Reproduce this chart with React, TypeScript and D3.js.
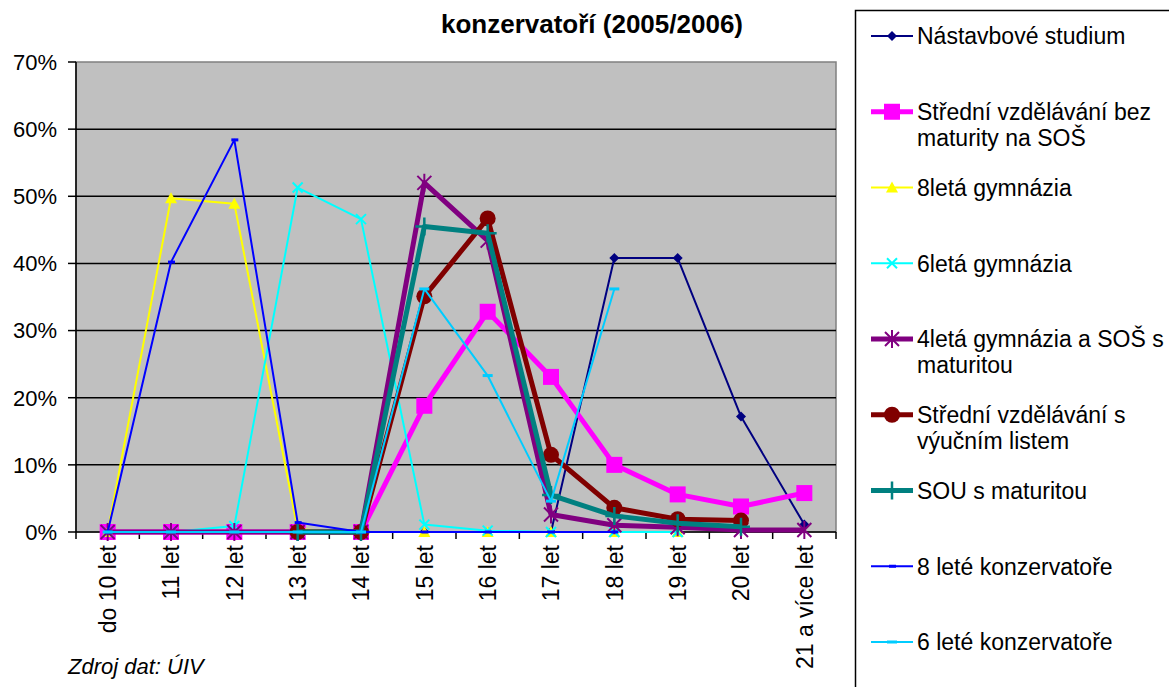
import * as d3 from "d3";
import React from "react";

// age groups on the x axis
const categories = [
  "do 10 let", "11 let", "12 let", "13 let", "14 let", "15 let",
  "16 let", "17 let", "18 let", "19 let", "20 let", "21 a více let",
];
const yTicks = [0, 10, 20, 30, 40, 50, 60, 70];

// shares in % (null = no point)
const nastavbove = [0, 0, 0, 0, 0, 0, 0, 0, 40.8, 40.8, 17.2, 1.1];
const bezMaturity = [0, 0, 0, 0, 0, 18.8, 32.8, 23.1, 10.0, 5.6, 3.8, 5.8];
const gym8 = [0, 49.7, 48.9, 0.4, 0, 0, 0, 0, 0, 0, null, null];
const gym6 = [0, 0, 0.9, 51.3, 46.6, 1.1, 0.2, 0, 0, 0, null, null];
const gym4 = [0, 0, 0, 0, 0, 52.0, 43.4, 2.6, 1.0, 0.7, 0.3, 0.3];
const vyucni = [null, null, null, 0, 0, 35.1, 46.7, 11.5, 3.6, 1.9, 1.7, null];
const souMaturita = [null, null, null, 0, 0, 45.5, 44.5, 5.5, 2.4, 1.3, 0.8, null];
const konz8 = [0, 40.2, 58.4, 1.4, 0, 0, 0, 0, 0, null, null, null];
const konz6 = [0, 0, 0, 0, 0, 36.2, 23.3, 4.6, 36.2, null, null, null];

type Shape = "diamond" | "square" | "triangle" | "x" | "star" | "circle" | "plus" | "dash" | "dashWide";

interface Series {
  name: string[];
  values: (number | null)[];
  color: string;
  width: number;
  shape: Shape;
}

const series: Series[] = [
  { name: ["Nástavbové studium"], values: nastavbove, color: "#000080", width: 2, shape: "diamond" },
  { name: ["Střední vzdělávání bez", "maturity na SOŠ"], values: bezMaturity, color: "#FF00FF", width: 5, shape: "square" },
  { name: ["8letá gymnázia"], values: gym8, color: "#FFFF00", width: 2, shape: "triangle" },
  { name: ["6letá gymnázia"], values: gym6, color: "#00FFFF", width: 2, shape: "x" },
  { name: ["4letá gymnázia a SOŠ s", "maturitou"], values: gym4, color: "#800080", width: 5, shape: "star" },
  { name: ["Střední vzdělávání s", "výučním listem"], values: vyucni, color: "#800000", width: 5, shape: "circle" },
  { name: ["SOU s maturitou"], values: souMaturita, color: "#008080", width: 5, shape: "plus" },
  { name: ["8 leté konzervatoře"], values: konz8, color: "#0000FF", width: 2, shape: "dash" },
  { name: ["6 leté konzervatoře"], values: konz6, color: "#00CCFF", width: 2, shape: "dashWide" },
];

const font = "'Liberation Sans', Arial, sans-serif";

function Marker({ shape, color, x, y }: { shape: Shape; color: string; x: number; y: number }) {
  switch (shape) {
    case "diamond":
      return <path d={`M${x},${y - 5}L${x + 5},${y}L${x},${y + 5}L${x - 5},${y}Z`} fill={color} />;
    case "square":
      return <rect x={x - 8} y={y - 8} width={16} height={16} fill={color} />;
    case "triangle":
      return <path d={`M${x},${y - 6}L${x + 6},${y + 5}L${x - 6},${y + 5}Z`} fill={color} />;
    case "x":
      return <path d={`M${x - 5},${y - 5}L${x + 5},${y + 5}M${x + 5},${y - 5}L${x - 5},${y + 5}`} stroke={color} strokeWidth={2} />;
    case "star":
      return (
        <path
          d={`M${x - 7},${y - 7}L${x + 7},${y + 7}M${x + 7},${y - 7}L${x - 7},${y + 7}M${x},${y - 9}L${x},${y + 9}`}
          stroke={color}
          strokeWidth={2}
        />
      );
    case "circle":
      return <circle cx={x} cy={y} r={8} fill={color} />;
    case "plus":
      return <path d={`M${x - 9},${y}L${x + 9},${y}M${x},${y - 9}L${x},${y + 9}`} stroke={color} strokeWidth={2.5} />;
    case "dash":
      return <rect x={x - 3} y={y - 1.5} width={7} height={3} fill={color} />;
    case "dashWide":
      return <rect x={x - 5} y={y - 1.5} width={10} height={3} fill={color} />;
  }
}

export default function App() {
  const width = 1169;
  const height = 687;
  const margin = { top: 62, right: 333, bottom: 155, left: 76 };

  const x = d3
    .scaleBand<string>()
    .domain(categories)
    .range([margin.left, width - margin.right])
    .padding(0);
  const y = d3
    .scaleLinear()
    .domain([0, 70])
    .range([height - margin.bottom, margin.top]);

  const cx = (c: string) => (x(c) ?? 0) + x.bandwidth() / 2;
  const line = d3
    .line<number | null>()
    .defined((d) => d != null)
    .x((_, i) => cx(categories[i]))
    .y((d) => y(d as number));

  const legendY = d3.scaleLinear().domain([0, 8]).range([36, 642]);
  const plotRight = width - margin.right;
  const plotBottom = y(0);

  return (
    <svg width={width} height={height} style={{ position: "absolute", left: 0, top: 0, background: "#fff" }}>
      {/* title */}
      <text x={592} y={33} textAnchor="middle" fontFamily={font} fontWeight="bold" fontSize={26}>
        konzervatoří (2005/2006)
      </text>

      {/* plot area */}
      <rect x={margin.left} y={margin.top} width={plotRight - margin.left} height={plotBottom - margin.top} fill="#C0C0C0" stroke="#808080" strokeWidth={1.5} />
      {yTicks.slice(1, -1).map((t) => (
        <line key={t} x1={margin.left} x2={plotRight} y1={y(t)} y2={y(t)} stroke="#000" strokeWidth={1.5} />
      ))}

      {/* y axis */}
      <line x1={margin.left} x2={margin.left} y1={margin.top} y2={plotBottom} stroke="#000" strokeWidth={1.5} />
      {yTicks.map((t) => (
        <g key={t}>
          <line x1={margin.left - 8} x2={margin.left} y1={y(t)} y2={y(t)} stroke="#000" strokeWidth={1.5} />
          <text x={57} y={y(t)} dy="0.36em" textAnchor="end" fontFamily={font} fontSize={22}>
            {t}%
          </text>
        </g>
      ))}

      {/* x axis */}
      <line x1={margin.left} x2={plotRight} y1={plotBottom} y2={plotBottom} stroke="#000" strokeWidth={1.5} />
      {categories.map((c) => (
        <line key={"t" + c} x1={(x(c) ?? 0) + x.bandwidth()} x2={(x(c) ?? 0) + x.bandwidth()} y1={plotBottom} y2={plotBottom + 7} stroke="#000" strokeWidth={1.5} />
      ))}
      <line x1={margin.left} x2={margin.left} y1={plotBottom} y2={plotBottom + 7} stroke="#000" strokeWidth={1.5} />
      {categories.map((c) => (
        <text
          key={c}
          transform={`translate(${cx(c)},${plotBottom + 13}) rotate(-90)`}
          dy="0.36em"
          textAnchor="end"
          fontFamily={font}
          fontSize={23}
        >
          {c}
        </text>
      ))}

      {/* series */}
      {series.map((s) => (
        <g key={s.name.join(" ")}>
          <path d={line(s.values) ?? ""} fill="none" stroke={s.color} strokeWidth={s.width} strokeLinejoin="round" />
          {s.values.map((v, i) =>
            v == null ? null : <Marker key={i} shape={s.shape} color={s.color} x={cx(categories[i])} y={y(v)} />
          )}
        </g>
      ))}

      <text x={68} y={666} dy="0.36em" fontFamily={font} fontStyle="italic" fontSize={22}>
        Zdroj dat: ÚIV
      </text>

      {/* legend */}
      <rect x={855.5} y={10.5} width={330} height={700} fill="#fff" stroke="#000" strokeWidth={1.5} />
      {series.map((s, i) => {
        const ly = legendY(i);
        return (
          <g key={"l" + i}>
            <line x1={871} x2={913} y1={ly} y2={ly} stroke={s.color} strokeWidth={s.width} />
            <Marker shape={s.shape} color={s.color} x={892} y={ly} />
            {s.name.map((n, j) => (
              <text key={j} x={917} y={ly + j * 26} dy="0.36em" fontFamily={font} fontSize={23}>
                {n}
              </text>
            ))}
          </g>
        );
      })}
    </svg>
  );
}
